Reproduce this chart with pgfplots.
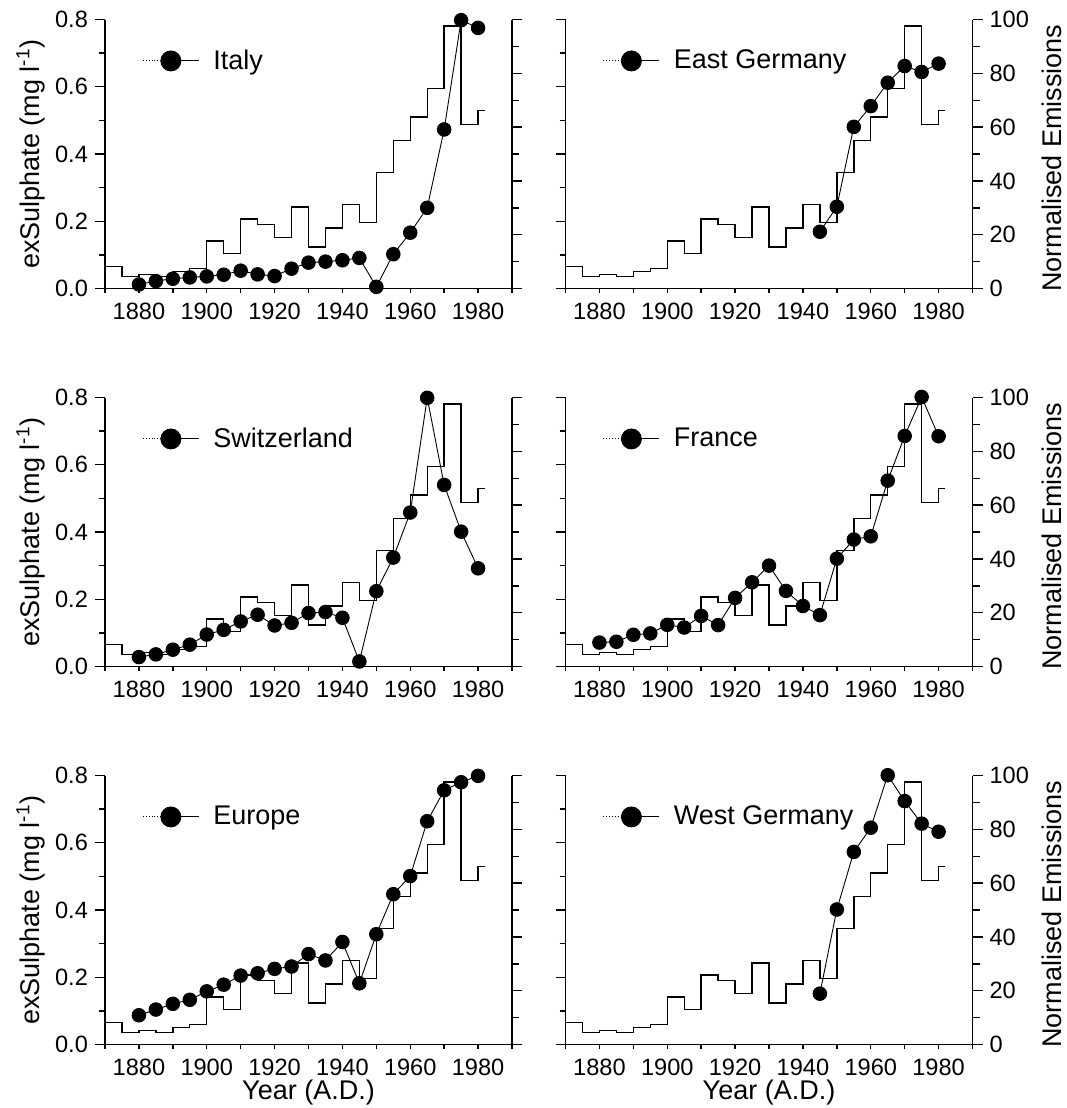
\documentclass[border=0pt]{standalone}
\usepackage{pgfplots}
\pgfplotsset{compat=1.18}
\usepackage{pgfplotstable}
\usepackage{fontspec}
\setmainfont{Liberation Sans}

\pgfplotstableread{
year v
1870 8.2
1875 4.4
1880 5.2
1885 4.4
1890 6.3
1895 7.5
1900 17.7
1905 13.0
1910 25.9
1915 23.7
1920 19.0
1925 30.3
1930 15.4
1935 22.5
1940 31.2
1945 24.5
1950 43.2
1955 55.1
1960 63.8
1965 74.3
1970 97.6
1975 60.9
1980 66.1
1982 66.1
}\emis

\pgfplotstableread{
year s
1880 0.012
1885 0.022
1890 0.029
1895 0.033
1900 0.036
1905 0.041
1910 0.053
1915 0.042
1920 0.037
1925 0.059
1930 0.077
1935 0.080
1940 0.084
1945 0.091
1950 0.005
1955 0.102
1960 0.166
1965 0.240
1970 0.473
1975 0.798
1980 0.775
}\italy

\pgfplotstableread{
year s
1880 0.028
1885 0.036
1890 0.050
1895 0.065
1900 0.095
1905 0.109
1910 0.134
1915 0.154
1920 0.122
1925 0.130
1930 0.159
1935 0.162
1940 0.145
1945 0.015
1950 0.224
1955 0.324
1960 0.458
1965 0.799
1970 0.540
1975 0.401
1980 0.292
}\swiss

\pgfplotstableread{
year s
1880 0.087
1885 0.104
1890 0.121
1895 0.133
1900 0.158
1905 0.178
1910 0.205
1915 0.212
1920 0.225
1925 0.232
1930 0.269
1935 0.250
1940 0.305
1945 0.182
1950 0.328
1955 0.447
1960 0.501
1965 0.664
1970 0.756
1975 0.780
1980 0.799
}\europe

\pgfplotstableread{
year v
1945 21.1
1950 30.4
1955 60.1
1960 67.8
1965 76.5
1970 82.7
1975 80.5
1980 83.6
}\egermany

\pgfplotstableread{
year v
1880 8.9
1885 9.2
1890 11.8
1895 12.3
1900 15.5
1905 14.5
1910 18.8
1915 15.4
1920 25.5
1925 31.3
1930 37.5
1935 28.1
1940 22.5
1945 19.1
1950 40.1
1955 47.2
1960 48.4
1965 69.1
1970 85.7
1975 100.2
1980 85.6
}\france

\pgfplotstableread{
year v
1945 18.9
1950 50.2
1955 71.6
1960 80.6
1965 100.1
1970 90.5
1975 82.1
1980 79.1
}\wgermany

\newcommand{\tickfont}{\fontsize{11.8}{13}\selectfont}
\newcommand{\labfont}{\fontsize{13.5}{16}\selectfont}

\pgfplotsset{
  legend image code/.code={%
    \draw[#1, mark=none, densely dotted] (0pt,0pt) -- (14pt,0pt);
    \draw[#1, mark=none, solid] (14pt,0pt) -- (28pt,0pt);
    \draw[#1, mark size=5pt] plot coordinates {(14pt,0pt)};
  },
  base/.style={scale only axis, width=203.5pt, height=134.5pt,
    xmin=1870, xmax=1990, anchor=south west, tick align=outside,
    clip=false,
    /pgf/number format/assume math mode=true,
    tick label style={font=\tickfont},
    axis line style={-, line width=0.7pt},
    tick style={line width=0.7pt, black}},
  yL/.style={base, ymin=0, ymax=0.8, axis x line=none, axis y line*=left,
    ytick={0,0.2,0.4,0.6,0.8}, minor ytick={0.1,0.3,0.5,0.7},
    major tick length=5pt, minor tick length=3pt,
    yticklabel style={/pgf/number format/fixed, /pgf/number format/fixed zerofill, /pgf/number format/precision=1},
    every axis y label/.style={at={(rel axis cs:0,0.5)}, rotate=90, anchor=center, yshift=37pt, font=\labfont}},
  yR/.style={base, ymin=0, ymax=100, axis x line=none, axis y line*=right,
    ytick={0,20,40,60,80,100}, minor ytick={10,30,50,70,90},
    major tick length=5pt, minor tick length=3.5pt,
    every axis y label/.style={at={(rel axis cs:1,0.5)}, rotate=90, anchor=center, yshift=-39.5pt, xshift=-2pt, font=\labfont}},
  xB/.style={base, ymin=0, ymax=1, axis y line=none, axis x line*=bottom,
    xtick={1880,1900,1920,1940,1960,1980}, minor xtick={1870,1890,1910,1930,1950,1970,1990},
    major tick length=2pt, minor tick length=2pt,
    xticklabel style={/pgf/number format/1000 sep={}, yshift=-1.5pt},
    x axis line style={shorten <=-5pt, shorten >=-5pt},
    every axis x label/.style={at={(rel axis cs:0.5,0)}, anchor=center, yshift=-24pt, font=\labfont}},
  stepline/.style={const plot, black, line width=0.7pt, mark=none},
  dots/.style={black, line width=0.45pt, mark=*, mark size=3.4pt, mark options={solid, fill=black}},
  leg/.style={legend style={draw=none, fill=none, at={(0.091,0.846)}, anchor=west,
    inner sep=0pt, nodes={inner sep=0pt}, column sep=7pt, font=\labfont}},
}

\newcommand{\leftpanel}[5]{%
  \begin{axis}[yR, at={(#1,#2)}, yticklabels={}]
    \addplot[stepline] table[x=year,y=v] {\emis};
  \end{axis}
  \begin{axis}[yL, leg, at={(#1,#2)}, ylabel={exSulphate (mg l\textsuperscript{-1})}]
    \addplot[dots] table[x=year,y=s] {#3};
    \addlegendentry{#4}
  \end{axis}
  \begin{axis}[xB, at={(#1,#2)}, xlabel={#5}]
  \end{axis}
}

\newcommand{\rightpanel}[5]{%
  \begin{axis}[yL, at={(#1,#2)}, yticklabels={}]
  \end{axis}
  \begin{axis}[yR, leg, at={(#1,#2)}, ylabel={Normalised Emissions}]
    \addplot[stepline, forget plot] table[x=year,y=v] {\emis};
    \addplot[dots] table[x=year,y=v] {#3};
    \addlegendentry{#4}
  \end{axis}
  \begin{axis}[xB, at={(#1,#2)}, xlabel={#5}]
  \end{axis}
}

\begin{document}
\begin{tikzpicture}
\path[use as bounding box] (0pt,0pt) rectangle (533pt,-554pt);
\leftpanel{52.5pt}{-144.25pt}{\italy}{Italy}{}
\rightpanel{282.75pt}{-144.25pt}{\egermany}{East Germany}{}
\leftpanel{52.5pt}{-333.25pt}{\swiss}{Switzerland}{}
\rightpanel{282.75pt}{-333.25pt}{\france}{France}{}
\leftpanel{52.5pt}{-522.25pt}{\europe}{Europe}{Year (A.D.)}
\rightpanel{282.75pt}{-522.25pt}{\wgermany}{West Germany}{Year (A.D.)}
\end{tikzpicture}
\end{document}
